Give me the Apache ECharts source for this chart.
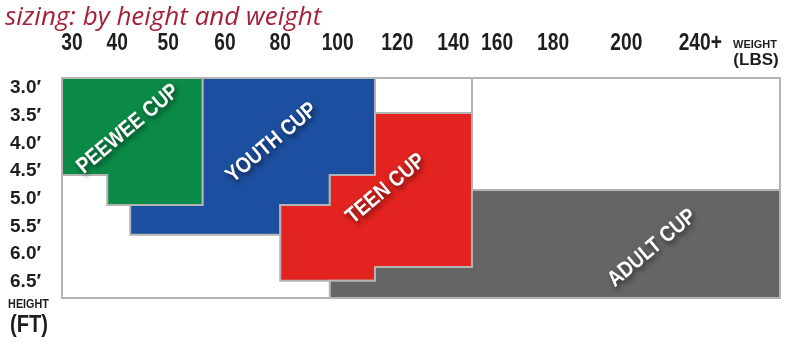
<!DOCTYPE html>
<html>
<head>
<meta charset="utf-8">
<script src="https://cdn.jsdelivr.net/npm/echarts@6/dist/echarts.min.js"></script>
<style>
  html, body { margin: 0; padding: 0; background: #fff; }
  #chart { width: 800px; height: 351px; }
</style>
</head>
<body>
<div id="chart"></div>
<script>
// weight scale is not linear on the card, so x runs 0..100 across the table
const weightLabels = ['30', '40', '50', '60', '80', '100', '120', '140', '160', '180', '200', '240+'];
const weightPos = [1.4, 7.7, 14.8, 22.7, 30.4, 38.4, 46.7, 54.5, 60.6, 68.4, 78.6, 88.9];
const heightTicks = [3.0, 3.5, 4.0, 4.5, 5.0, 5.5, 6.0, 6.5];
const heightMin = 2.82, heightMax = 6.79;

const cupNames = ['PEEWEE CUP', 'YOUTH CUP', 'TEEN CUP', 'ADULT CUP'];
// outline of each cup region as [x, height] pairs
const peewee = [[0, 2.82], [19.6, 2.82], [19.6, 5.11], [6.3, 5.11], [6.3, 4.57], [0, 4.57]];
const youth = [[19.6, 2.82], [43.6, 2.82], [43.6, 4.57], [37.3, 4.57], [37.3, 5.11], [30.4, 5.11],
  [30.4, 5.65], [9.5, 5.65], [9.5, 5.11], [19.6, 5.11]];
const teen = [[43.6, 3.45], [57.1, 3.45], [57.1, 6.23], [43.6, 6.23], [43.6, 6.48], [30.4, 6.48],
  [30.4, 5.11], [37.3, 5.11], [37.3, 4.57], [43.6, 4.57]];
const adult = [[57.1, 4.84], [100, 4.84], [100, 6.79], [37.3, 6.79], [37.3, 6.48], [43.6, 6.48],
  [43.6, 6.23], [57.1, 6.23]];
const emptyCells = [
  [[43.6, 2.82], [57.1, 2.82], [57.1, 3.45], [43.6, 3.45]],
  [[57.1, 2.82], [100, 2.82], [100, 4.84], [57.1, 4.84]]
];
const cupLabelAt = [[9.2, 3.74], [29.2, 3.99], [45.1, 4.82], [82.2, 5.89]];

const cupShapes = [peewee, youth, teen, adult];
const cupColors = ['#0b8a47', '#1d4fa0', '#e2231f', '#646567'];
const edge = '#b4b4b4';
const ink = '#1e1e1e';
const boldFont = '"Liberation Sans", Arial, sans-serif';

const chart = echarts.init(document.getElementById('chart'));

function polyRender(shapes, colors, withText) {
  return function (params, api) {
    const i = params.dataIndex;
    const pts = shapes[i].map(p => api.coord(p));
    const children = [{
      type: 'polygon',
      shape: { points: pts },
      style: { fill: colors ? colors[i] : '#fff', stroke: edge, lineWidth: 2 }
    }];
    if (withText) {
      const c = api.coord(cupLabelAt[i]);
      children.push({
        type: 'text',
        x: c[0], y: c[1],
        rotation: 40 * Math.PI / 180,
        scaleX: 0.86,
        style: {
          text: cupNames[i],
          fill: '#fff',
          font: 'bold 22px ' + boldFont,
          align: 'center',
          verticalAlign: 'middle',
          textShadowColor: 'rgba(0,0,0,0.55)',
          textShadowBlur: 5,
          textShadowOffsetX: 2,
          textShadowOffsetY: 3
        }
      });
    }
    return { type: 'group', children: children };
  };
}

// small helper for the condensed captions
function caption(text, x, y, size, sx) {
  return { type: 'text', x: x, y: y, scaleX: sx,
    style: { text: text, fill: ink, font: 'bold ' + size + 'px ' + boldFont,
      align: 'center', verticalAlign: 'middle' } };
}

chart.setOption({
  animation: false,
  grid: { left: 62, right: 20, top: 78, bottom: 53 },
  xAxis: {
    type: 'value', position: 'top', min: 0, max: 100,
    axisLine: { show: false }, axisTick: { show: false }, splitLine: { show: false },
    axisLabel: { show: false }
  },
  yAxis: {
    type: 'value', inverse: true, min: heightMin, max: heightMax,
    axisLine: { show: false }, axisTick: { show: false }, splitLine: { show: false },
    axisLabel: {
      customValues: heightTicks,
      formatter: (v) => v.toFixed(1) + '\u2032',
      margin: 21,
      color: ink, fontWeight: 'bold', fontSize: 19, fontFamily: boldFont
    }
  },
  graphic: [
    { type: 'text', x: 5, y: 18,
      style: { text: 'sizing: by height and weight', fill: '#a52139', verticalAlign: 'middle',
        font: 'italic 26px "Open Sans", "Noto Sans", sans-serif' } },
    caption('WEIGHT', 755, 45, 11, 1),
    caption('(LBS)', 756, 60, 17, 1),
    caption('HEIGHT', 28.5, 304.5, 12, 0.9),
    caption('(FT)', 29, 325, 24, 0.84)
  ],
  series: [
    {
      type: 'custom', name: 'frame',
      data: [0],
      renderItem: function (params, api) {
        const a = api.coord([0, heightMin]);
        const b = api.coord([100, heightMax]);
        return { type: 'rect', shape: { x: a[0], y: a[1], width: b[0] - a[0], height: b[1] - a[1] },
          style: { fill: '#fff', stroke: edge, lineWidth: 2 } };
      }
    },
    {
      type: 'custom', name: 'empty',
      data: emptyCells.map((_, i) => i),
      renderItem: polyRender(emptyCells, null, false)
    },
    {
      type: 'custom', name: 'cups',
      data: cupShapes.map((_, i) => i),
      renderItem: polyRender(cupShapes, cupColors, true)
    },
    {
      // weight tick labels, condensed like the printed card
      type: 'custom', name: 'weightTicks',
      data: weightPos.map((_, i) => i),
      renderItem: function (params, api) {
        const i = params.dataIndex;
        const p = api.coord([weightPos[i], heightMin]);
        return {
          type: 'text', x: p[0], y: p[1] - 35, scaleX: 0.8,
          style: { text: weightLabels[i], fill: ink, font: 'bold 24px ' + boldFont,
            align: 'center', verticalAlign: 'middle' }
        };
      }
    }
  ]
});
</script>
</body>
</html>
